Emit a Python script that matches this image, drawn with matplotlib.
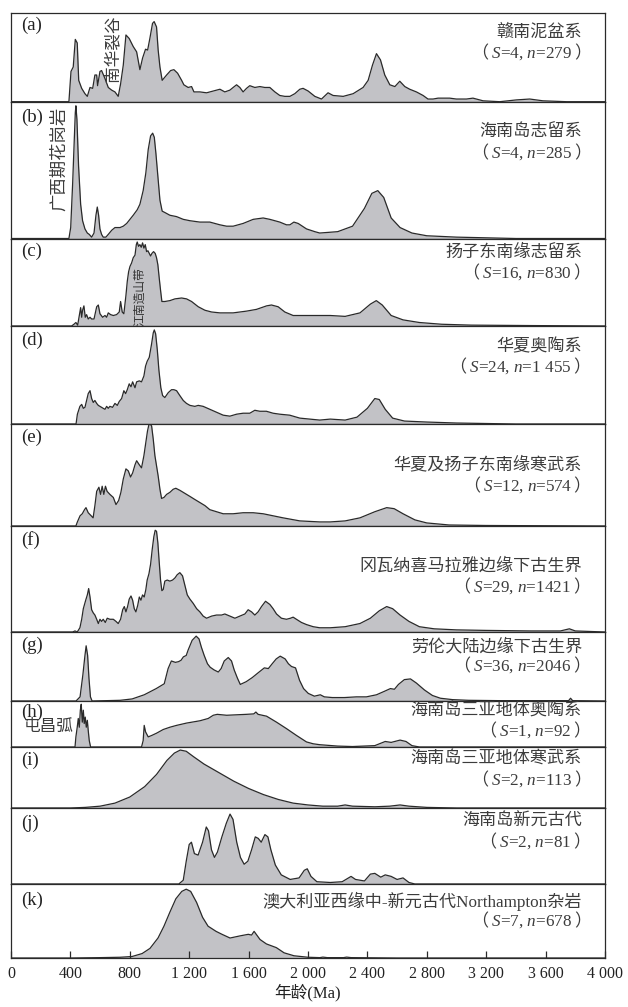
import matplotlib
matplotlib.use("Agg")
import matplotlib.pyplot as plt

plt.rcParams['font.family'] = ['Liberation Serif', 'Noto Sans CJK SC']
plt.rcParams['mathtext.fontset'] = 'custom'
plt.rcParams['mathtext.rm'] = 'Liberation Serif'
plt.rcParams['mathtext.it'] = 'Liberation Serif:italic'
plt.rcParams['mathtext.sf'] = 'Noto Sans CJK SC'

# ---------------------------------------------------------------------------
# Detrital zircon age spectra: (age Ma, relative probability) per panel
# ---------------------------------------------------------------------------
spec_a = [(0, 0), (390, 0), (404, 0.34), (419, 0.39), (433, 0.70), (446, 0.66), (456, 0.24),
          (476, 0.15), (498, 0.09), (514, 0.06), (532, 0.16), (550, 0.15), (565, 0.30),
          (577, 0.30), (583, 0.18), (599, 0.34), (610, 0.35), (633, 0.26), (655, 0.16),
          (678, 0.13), (700, 0.11), (722, 0.06), (738, 0.20), (756, 0.41), (774, 0.75),
          (796, 0.71), (823, 0.62), (846, 0.56), (868, 0.36), (886, 0.49), (906, 0.59),
          (920, 0.58), (935, 0.71), (953, 0.88), (964, 0.90), (980, 0.84), (991, 0.58),
          (1003, 0.39), (1018, 0.24), (1048, 0.30), (1075, 0.35), (1097, 0.36), (1122, 0.32),
          (1149, 0.24), (1164, 0.19), (1193, 0.16), (1216, 0.17), (1232, 0.11), (1250, 0.11),
          (1272, 0.11), (1317, 0.10), (1362, 0.12), (1407, 0.14), (1440, 0.11), (1474, 0.13),
          (1496, 0.16), (1519, 0.19), (1541, 0.16), (1563, 0.11), (1586, 0.15), (1608, 0.18),
          (1642, 0.16), (1676, 0.17), (1709, 0.16), (1743, 0.16), (1777, 0.11), (1810, 0.07),
          (1844, 0.06), (1878, 0.06), (1911, 0.09), (1945, 0.14), (1967, 0.15), (2001, 0.12),
          (2046, 0.06), (2091, 0.03), (2135, 0.10), (2169, 0.07), (2237, 0.06), (2304, 0.09),
          (2371, 0.16), (2405, 0.24), (2434, 0.41), (2461, 0.54), (2488, 0.47), (2517, 0.30),
          (2551, 0.19), (2585, 0.17), (2618, 0.23), (2652, 0.17), (2685, 0.14), (2730, 0.11),
          (2775, 0.07), (2808, 0.03), (2842, 0.03), (2876, 0.04), (2909, 0.04), (2954, 0.04),
          (2999, 0.03), (3067, 0.03), (3111, 0.04), (3179, 0.01), (3291, 0.0), (3403, 0.02),
          (3493, 0.03), (3582, 0.01), (3742, 0.0), (4000, 0)]

spec_b = [(0, 0), (390, 0), (402, 0.08), (415, 0.40), (426, 0.72), (433, 0.92), (437, 0.97),
          (444, 0.87), (455, 0.53), (469, 0.25), (482, 0.13), (498, 0.07), (514, 0.04),
          (527, 0.03), (543, 0.01), (559, 0.04), (572, 0.17), (581, 0.23), (590, 0.17),
          (599, 0.07), (610, 0.03), (621, 0.01), (639, 0.01), (655, 0.03), (678, 0.06),
          (700, 0.08), (734, 0.08), (756, 0.09), (779, 0.11), (801, 0.14), (823, 0.17),
          (850, 0.21), (868, 0.25), (890, 0.35), (908, 0.48), (924, 0.65), (940, 0.75),
          (954, 0.77), (965, 0.74), (976, 0.62), (991, 0.43), (1003, 0.28), (1018, 0.20),
          (1036, 0.19), (1070, 0.17), (1115, 0.16), (1160, 0.14), (1205, 0.13), (1272, 0.12),
          (1339, 0.12), (1407, 0.10), (1452, 0.09), (1496, 0.09), (1563, 0.11), (1631, 0.14),
          (1698, 0.15), (1743, 0.14), (1810, 0.12), (1855, 0.10), (1878, 0.10), (1905, 0.12),
          (1934, 0.11), (1990, 0.07), (2046, 0.05), (2079, 0.04), (2200, 0.05), (2300, 0.09),
          (2380, 0.22), (2430, 0.33), (2470, 0.35), (2510, 0.30), (2560, 0.15), (2620, 0.08),
          (2700, 0.04), (2800, 0.02), (3000, 0.01), (3400, 0.0), (4000, 0)]

spec_c = [(0, 0), (408, 0), (424, 0.02), (437, 0.04), (449, 0.01), (460, 0.12), (469, 0.21),
          (476, 0.10), (482, 0.18), (491, 0.23), (500, 0.10), (509, 0.13), (520, 0.08),
          (532, 0.10), (543, 0.08), (559, 0.08), (577, 0.22), (588, 0.24), (599, 0.14),
          (617, 0.10), (633, 0.12), (644, 0.10), (655, 0.15), (671, 0.13), (689, 0.12),
          (711, 0.13), (729, 0.16), (738, 0.28), (749, 0.16), (760, 0.14), (774, 0.35),
          (783, 0.51), (792, 0.62), (801, 0.68), (812, 0.72), (823, 0.78), (835, 0.81),
          (844, 0.93), (850, 0.96), (859, 0.91), (868, 0.93), (877, 0.90), (886, 0.95),
          (895, 0.89), (904, 0.93), (913, 0.85), (922, 0.86), (931, 0.83), (940, 0.80),
          (949, 0.83), (960, 0.85), (971, 0.83), (980, 0.78), (989, 0.70), (998, 0.55),
          (1007, 0.41), (1016, 0.28), (1036, 0.28), (1070, 0.29), (1104, 0.31), (1149, 0.32),
          (1182, 0.31), (1216, 0.28), (1261, 0.22), (1306, 0.18), (1351, 0.16), (1407, 0.15),
          (1496, 0.15), (1586, 0.17), (1653, 0.19), (1721, 0.23), (1754, 0.24), (1799, 0.22),
          (1844, 0.16), (1900, 0.12), (1967, 0.12), (2035, 0.12), (2079, 0.12), (2150, 0.12),
          (2250, 0.11), (2350, 0.15), (2420, 0.25), (2460, 0.29), (2500, 0.24), (2560, 0.12),
          (2640, 0.07), (2750, 0.04), (2900, 0.02), (3100, 0.01), (3500, 0.005), (4000, 0)]

spec_d = [(0, 0), (438, 0), (447, 0.10), (464, 0.18), (476, 0.20), (487, 0.16), (498, 0.17),
          (509, 0.24), (520, 0.31), (532, 0.34), (543, 0.26), (554, 0.22), (565, 0.24),
          (577, 0.21), (588, 0.19), (599, 0.18), (610, 0.17), (621, 0.16), (633, 0.15),
          (644, 0.18), (655, 0.16), (666, 0.18), (684, 0.17), (700, 0.21), (716, 0.19),
          (729, 0.23), (745, 0.26), (760, 0.34), (772, 0.31), (783, 0.35), (796, 0.41),
          (808, 0.38), (819, 0.43), (835, 0.37), (846, 0.43), (864, 0.44), (879, 0.43),
          (895, 0.49), (906, 0.59), (917, 0.64), (931, 0.68), (947, 0.82), (958, 0.93),
          (965, 0.96), (974, 0.92), (985, 0.76), (996, 0.55), (1009, 0.37), (1021, 0.29),
          (1036, 0.27), (1059, 0.32), (1081, 0.35), (1097, 0.35), (1115, 0.34), (1137, 0.29),
          (1160, 0.24), (1182, 0.21), (1205, 0.19), (1238, 0.18), (1261, 0.19), (1294, 0.18),
          (1339, 0.15), (1384, 0.12), (1429, 0.09), (1474, 0.08), (1519, 0.10), (1563, 0.11),
          (1608, 0.11), (1642, 0.14), (1676, 0.13), (1720, 0.13), (1765, 0.11), (1810, 0.10),
          (1877, 0.09), (1945, 0.06), (2012, 0.05), (2079, 0.04), (2150, 0.05), (2250, 0.04),
          (2330, 0.07), (2400, 0.16), (2450, 0.26), (2480, 0.25), (2520, 0.15), (2570, 0.06),
          (2650, 0.03), (2800, 0.02), (3000, 0.01), (3400, 0.0), (4000, 0)]

spec_e = [(0, 0), (437, 0), (447, 0.04), (465, 0.10), (480, 0.12), (495, 0.16), (505, 0.18),
          (520, 0.13), (540, 0.10), (553, 0.08), (565, 0.20), (577, 0.34), (592, 0.38),
          (603, 0.31), (614, 0.39), (625, 0.31), (636, 0.39), (647, 0.34), (666, 0.31),
          (689, 0.28), (707, 0.21), (725, 0.25), (740, 0.33), (756, 0.46), (774, 0.56),
          (790, 0.54), (805, 0.48), (819, 0.52), (835, 0.60), (846, 0.64), (864, 0.60),
          (879, 0.57), (895, 0.69), (908, 0.82), (919, 0.93), (928, 0.99), (938, 1.0),
          (947, 0.98), (958, 0.85), (969, 0.69), (980, 0.59), (991, 0.49), (1003, 0.36),
          (1014, 0.27), (1030, 0.28), (1048, 0.31), (1070, 0.33), (1092, 0.36), (1110, 0.37),
          (1137, 0.35), (1171, 0.32), (1205, 0.29), (1238, 0.26), (1272, 0.23), (1306, 0.20),
          (1339, 0.16), (1384, 0.14), (1429, 0.12), (1496, 0.12), (1563, 0.13), (1631, 0.13),
          (1698, 0.12), (1765, 0.10), (1832, 0.08), (1945, 0.05), (2079, 0.04), (2150, 0.04),
          (2250, 0.05), (2350, 0.08), (2450, 0.14), (2530, 0.18), (2580, 0.17), (2640, 0.12),
          (2720, 0.06), (2800, 0.03), (2950, 0.01), (3200, 0.005), (4000, 0)]

spec_f = [(0, 0), (415, 0), (431, 0.01), (446, 0.0), (464, 0.04), (476, 0.12), (487, 0.22),
          (503, 0.30), (514, 0.35), (523, 0.41), (532, 0.33), (543, 0.21), (554, 0.18),
          (565, 0.16), (577, 0.12), (588, 0.08), (599, 0.12), (610, 0.10), (621, 0.12),
          (635, 0.09), (648, 0.13), (666, 0.12), (689, 0.12), (707, 0.10), (722, 0.08),
          (738, 0.12), (752, 0.21), (763, 0.24), (774, 0.19), (785, 0.24), (796, 0.31),
          (808, 0.34), (819, 0.30), (830, 0.22), (841, 0.19), (853, 0.25), (864, 0.33),
          (875, 0.30), (886, 0.35), (897, 0.33), (908, 0.40), (917, 0.49), (929, 0.55),
          (940, 0.64), (951, 0.78), (962, 0.90), (971, 0.96), (980, 0.95), (989, 0.84),
          (998, 0.66), (1007, 0.49), (1016, 0.39), (1025, 0.40), (1036, 0.48), (1052, 0.49),
          (1070, 0.48), (1088, 0.49), (1104, 0.51), (1119, 0.54), (1137, 0.56), (1155, 0.53),
          (1171, 0.44), (1187, 0.35), (1205, 0.31), (1227, 0.27), (1250, 0.22), (1272, 0.19),
          (1294, 0.15), (1317, 0.13), (1351, 0.15), (1384, 0.16), (1418, 0.16), (1440, 0.17),
          (1474, 0.15), (1508, 0.13), (1541, 0.15), (1575, 0.17), (1597, 0.21), (1620, 0.19),
          (1642, 0.16), (1664, 0.19), (1687, 0.24), (1714, 0.29), (1743, 0.26), (1765, 0.22),
          (1788, 0.17), (1821, 0.13), (1855, 0.12), (1882, 0.13), (1900, 0.14), (1922, 0.12),
          (1956, 0.09), (1990, 0.07), (2035, 0.05), (2079, 0.04), (2150, 0.04), (2250, 0.05),
          (2350, 0.08), (2420, 0.13), (2480, 0.20), (2530, 0.24), (2570, 0.22), (2620, 0.16),
          (2680, 0.10), (2750, 0.05), (2850, 0.03), (3000, 0.02), (3200, 0.015), (3500, 0.01),
          (3700, 0.01), (3760, 0.03), (3800, 0.01), (4000, 0)]

spec_g = [(0, 0), (438, 0), (465, 0.06), (484, 0.38), (498, 0.66), (506, 0.80), (516, 0.66),
          (525, 0.33), (535, 0.06), (546, 0), (735, 0.01), (816, 0.03), (897, 0.09),
          (978, 0.18), (1032, 0.25), (1058, 0.47), (1080, 0.58), (1107, 0.56), (1128, 0.57),
          (1145, 0.59), (1161, 0.64), (1180, 0.66), (1193, 0.74), (1220, 0.88), (1247, 0.94),
          (1266, 0.90), (1282, 0.78), (1301, 0.66), (1323, 0.54), (1341, 0.49), (1368, 0.45),
          (1396, 0.42), (1415, 0.47), (1436, 0.58), (1463, 0.63), (1485, 0.58), (1503, 0.45),
          (1525, 0.33), (1544, 0.24), (1584, 0.28), (1625, 0.34), (1665, 0.41), (1706, 0.48),
          (1733, 0.47), (1759, 0.54), (1786, 0.61), (1813, 0.65), (1846, 0.61), (1868, 0.54),
          (1889, 0.50), (1916, 0.48), (1943, 0.30), (1970, 0.18), (2002, 0.11), (2043, 0.07),
          (2083, 0.09), (2110, 0.06), (2164, 0.05), (2245, 0.05), (2326, 0.06), (2393, 0.06),
          (2461, 0.09), (2514, 0.14), (2555, 0.18), (2582, 0.17), (2609, 0.24), (2649, 0.31),
          (2690, 0.32), (2730, 0.26), (2784, 0.16), (2838, 0.08), (2892, 0.04), (2973, 0.02),
          (3081, 0.01), (3296, 0.005), (3701, 0.005), (3755, 0.005), (3768, 0.04),
          (3782, 0.005), (4000, 0)]

spec_h = [(0, 0), (431, 0), (437, 0.22), (446, 0.43), (453, 0.62), (460, 0.43), (467, 0.80),
          (473, 0.93), (480, 0.54), (487, 0.80), (493, 0.51), (500, 0.65), (507, 0.43),
          (514, 0.58), (520, 0.36), (527, 0.14), (536, 0), (879, 0), (890, 0.14), (897, 0.47),
          (906, 0.33), (924, 0.22), (947, 0.25), (980, 0.30), (1025, 0.38), (1070, 0.43),
          (1115, 0.47), (1182, 0.52), (1272, 0.57), (1328, 0.62), (1362, 0.69), (1389, 0.71),
          (1452, 0.69), (1519, 0.70), (1586, 0.71), (1635, 0.72), (1649, 0.76), (1664, 0.71),
          (1721, 0.67), (1788, 0.54), (1855, 0.40), (1923, 0.25), (1990, 0.11), (2035, 0.07),
          (2079, 0.05), (2200, 0.02), (2300, 0.01), (2450, 0.03), (2520, 0.12), (2560, 0.10),
          (2620, 0.15), (2660, 0.12), (2700, 0.03), (2750, 0), (4000, 0)]

spec_i = [(0, 0), (400, 0.0), (500, 0.01), (600, 0.03), (700, 0.08), (800, 0.18), (900, 0.35),
          (980, 0.55), (1050, 0.78), (1100, 0.90), (1140, 0.95), (1180, 0.93), (1230, 0.84),
          (1300, 0.72), (1400, 0.58), (1500, 0.44), (1600, 0.32), (1700, 0.22), (1800, 0.14),
          (1900, 0.08), (2000, 0.05), (2100, 0.03), (2200, 0.03), (2250, 0.05), (2300, 0.03),
          (2450, 0.02), (2550, 0.03), (2620, 0.05), (2680, 0.03), (2800, 0.01), (3000, 0.0),
          (4000, 0)]

spec_j = [(0, 0), (1130, 0.0), (1160, 0.05), (1180, 0.30), (1200, 0.52), (1215, 0.55),
          (1235, 0.40), (1260, 0.38), (1290, 0.55), (1315, 0.75), (1330, 0.70), (1350, 0.45),
          (1370, 0.35), (1390, 0.42), (1420, 0.62), (1450, 0.80), (1475, 0.92), (1495, 0.85),
          (1520, 0.55), (1545, 0.35), (1570, 0.26), (1595, 0.30), (1620, 0.45), (1645, 0.62),
          (1665, 0.60), (1685, 0.55), (1710, 0.65), (1730, 0.62), (1750, 0.45), (1780, 0.25),
          (1820, 0.12), (1880, 0.06), (1940, 0.08), (1975, 0.18), (1995, 0.20), (2020, 0.10),
          (2060, 0.03), (2150, 0.02), (2230, 0.03), (2290, 0.10), (2320, 0.06), (2380, 0.04),
          (2420, 0.13), (2450, 0.14), (2490, 0.09), (2520, 0.12), (2560, 0.10), (2600, 0.06),
          (2640, 0.08), (2680, 0.02), (2720, 0.0), (4000, 0)]

spec_k = [(0, 0), (400, 0.0), (600, 0.005), (735, 0.01), (815, 0.02), (883, 0.06), (936, 0.13),
          (990, 0.27), (1030, 0.43), (1070, 0.62), (1110, 0.80), (1150, 0.90), (1180, 0.93),
          (1210, 0.90), (1250, 0.75), (1290, 0.55), (1327, 0.43), (1381, 0.36), (1421, 0.32),
          (1475, 0.27), (1545, 0.30), (1598, 0.32), (1620, 0.31), (1637, 0.36), (1677, 0.25),
          (1720, 0.19), (1787, 0.14), (1839, 0.07), (1906, 0.03), (2000, 0.01), (2080, 0.005),
          (2100, 0.012), (2130, 0.005), (2240, 0.005), (2260, 0.012), (2290, 0.005),
          (2600, 0.0), (4000, 0)]

tags = ["a", "b", "c", "d", "e", "f", "g", "h", "i", "j", "k"]
spectra = [spec_a, spec_b, spec_c, spec_d, spec_e, spec_f, spec_g, spec_h, spec_i, spec_j, spec_k]
titles = ["赣南泥盆系", "海南岛志留系", "扬子东南缘志留系", "华夏奥陶系",
          "华夏及扬子东南缘寒武系", "冈瓦纳喜马拉雅边缘下古生界", "劳伦大陆边缘下古生界",
          "海南岛三亚地体奥陶系", "海南岛三亚地体寒武系", "海南岛新元古代",
          "澳大利亚西缘中-新元古代Northampton杂岩"]
n_sections = ["4", "4", "16", "24", "12", "29", "36", "1", "2", "2", "7"]
n_grains = ["279", "285", "830", "1 455", "574", "1421", "2046", "92", "113", "81", "678"]

age_ticks = list(range(0, 4001, 400))

# ---------------------------------------------------------------------------
# Layout (pixel rows of panel edges, text offsets below each panel top)
# ---------------------------------------------------------------------------
W, H = 628, 1007
X0, X1 = 11, 605
edges = [12.7, 101.7, 238.5, 326, 424, 526, 632, 701, 747, 808, 884, 958]
tag_dy = [13, 16, 13, 14, 13, 14, 13, 11, 13, 15, 16]
title_dy = [[20, 39], [30, 50], [14, 33], [21, 40], [41, 61], [40, 60],
            [15, 33], [11, 29], [13, 32], [14, 33], [17, 36]]

LINE = "#2a2a2a"
FILL = "#c2c2c6"
TEXT = "#3c3c3c"

fig = plt.figure(figsize=(W / 100, H / 100), dpi=100)
axes = []
for i, pts in enumerate(spectra):
    top, bot = edges[i], edges[i + 1]
    ax = fig.add_axes([X0 / W, 1 - bot / H, (X1 - X0) / W, (bot - top) / H])
    ages = [p[0] for p in pts]
    dens = [p[1] for p in pts]
    ax.fill_between(ages, dens, 0, color=FILL, lw=0)
    ax.plot(ages, dens, color=LINE, lw=0.9)
    ax.set_xlim(0, 4000)
    ax.set_ylim(0, 1.0)
    ax.set_xticks([])
    ax.set_yticks([])
    for sp in ax.spines.values():
        sp.set_color(LINE)
        sp.set_linewidth(0.9)

    ax.annotate(f"({tags[i]})", xy=(0, 1), xycoords="axes fraction",
                xytext=(10, -tag_dy[i]), textcoords="offset pixels",
                ha="left", va="center", fontsize=13.5, color="#222222")
    ax.annotate(titles[i], xy=(1, 1), xycoords="axes fraction",
                xytext=(-23, -title_dy[i][0]), textcoords="offset pixels",
                ha="right", va="center", fontsize=12.3, color=TEXT)
    # full-width brackets come from the CJK face, S and n in italic serif
    count = (r"$\mathsf{（}\;S$=" + n_sections[i] + r", $n$=" + n_grains[i]
             + r"$\;\mathsf{）}$")
    ax.annotate(count, xy=(1, 1), xycoords="axes fraction",
                xytext=(-24, -title_dy[i][1]), textcoords="offset pixels",
                ha="right", va="center", fontsize=12.3, color=TEXT)
    axes.append(ax)

# tectonic event notes
axes[0].annotate("南华裂谷", xy=(0, 1), xycoords="axes fraction", xytext=(102, -36),
                 textcoords="offset pixels", rotation=90, ha="center", va="center",
                 fontsize=12, color=TEXT)
axes[1].annotate("广西期花岗岩", xy=(0, 1), xycoords="axes fraction", xytext=(49, -57),
                 textcoords="offset pixels", rotation=90, ha="center", va="center",
                 fontsize=12.5, color=TEXT)
axes[2].annotate("江南造山带", xy=(0, 1), xycoords="axes fraction", xytext=(129, -58),
                 textcoords="offset pixels", rotation=90, ha="center", va="center",
                 fontsize=8.5, color="#333333")
axes[7].annotate("屯昌弧", xy=(0, 1), xycoords="axes fraction", xytext=(13, -26),
                 textcoords="offset pixels", ha="left", va="center",
                 fontsize=12, color=TEXT)

# age axis on the bottom panel
axk = axes[-1]
axk.set_xticks(age_ticks)
axk.set_xticklabels([f"{t:,}".replace(",", " ") for t in age_ticks])
axk.tick_params(axis="x", direction="in", length=5, width=0.9, color=LINE,
                labelsize=11.5, pad=6, labelcolor="#222222")
axk.set_xlabel("年龄(Ma)", fontsize=12, color="#222222", labelpad=1)

fig.savefig("out.png", dpi=100)
